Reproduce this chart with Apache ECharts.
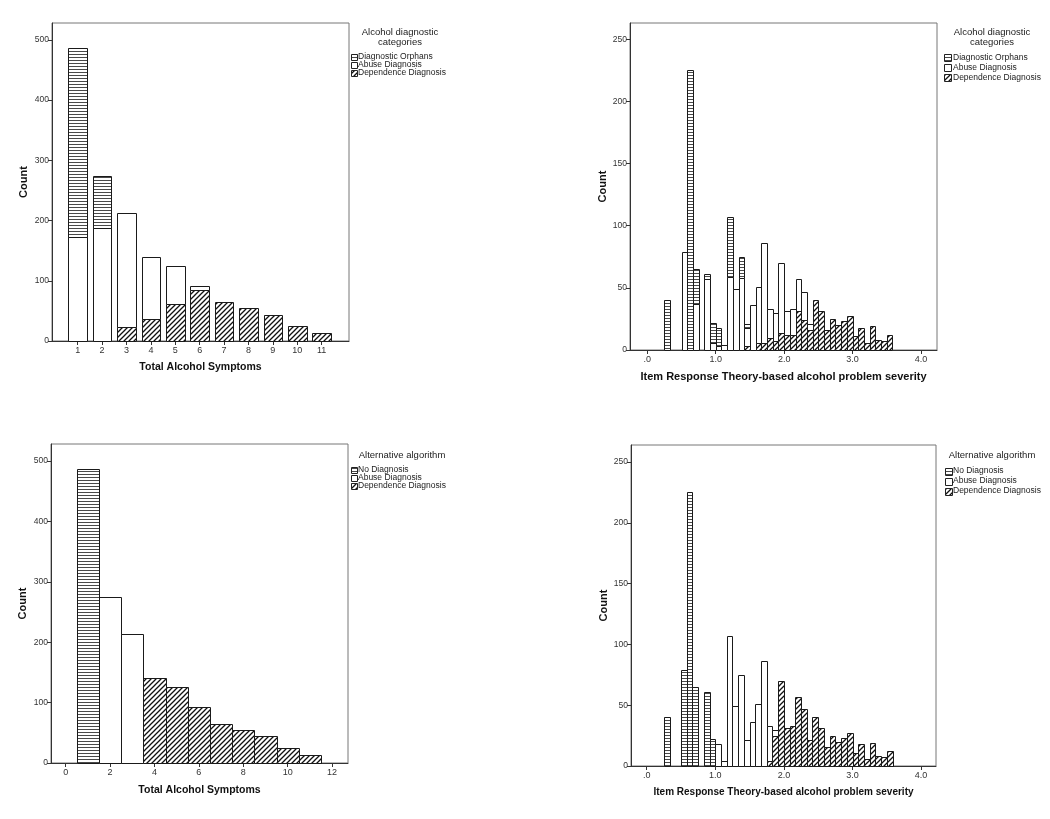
<!DOCTYPE html>
<html><head><meta charset="utf-8">
<script src="https://cdn.jsdelivr.net/npm/echarts@6/dist/echarts.min.js"></script>
<style>html,body{margin:0;padding:0;background:#fff}#c{width:1050px;height:819px}</style>
</head><body><div id="c"></div><script>
// ---------- DATA ----------
// Top-left / bottom-left: Total Alcohol Symptoms (1..11)
const symptoms = [1, 2, 3, 4, 5, 6, 7, 8, 9, 10, 11];
const tlOrphans    = [313, 86, 0, 0, 0, 0, 0, 0, 0, 0, 0];
const tlAbuse      = [173, 188, 190, 104, 63, 8, 0, 0, 0, 0, 0];
const tlDependence = [0, 0, 23, 36, 62, 84, 65, 54, 44, 25, 14];
const blNone       = [486, 0, 0, 0, 0, 0, 0, 0, 0, 0, 0];
const blAbuse      = [0, 274, 213, 0, 0, 0, 0, 0, 0, 0, 0];
const blDependence = [0, 0, 0, 140, 125, 92, 65, 54, 44, 25, 14];

// IRT severity histogram: bin k covers [k/12, (k+1)/12]
const irtBinIndex = [3,4,5,6,7,8,9,10,11,12,13,14,15,16,17,18,19,20,21,22,23,24,25,26,27,28,29,30,31,32,33,34,35,36,37,38,39,40,41,42];
const irtBinsPerUnit = 12;
const trDependence = [0,0,0,0,0,0,0,0,0,0,0,0,0,0,3,0,6,6,10,7,14,12,12,31,24,16,40,31,16,25,20,23,27,11,18,6,19,8,7,12];
const trAbuse      = [0,0,0,79,0,37,0,57,6,3,4,59,49,58,15,36,45,80,23,23,56,19,21,26,23,5,0,0,0,0,0,0,0,0,0,0,0,0,0,0];
const trOrphans    = [40,0,0,0,225,28,0,4,16,15,0,48,0,17,3,0,0,0,0,0,0,0,0,0,0,0,0,0,0,0,0,0,0,0,0,0,0,0,0,0];
const brDependence = [0,0,0,0,0,0,0,0,0,0,0,0,0,0,0,0,0,0,4,25,70,31,33,57,47,21,40,31,16,25,20,23,27,11,18,6,19,8,7,12];
const brAbuse      = [0,0,0,0,0,0,0,0,0,18,4,107,49,75,21,36,51,86,29,5,0,0,0,0,0,0,0,0,0,0,0,0,0,0,0,0,0,0,0,0];
const brNone       = [40,0,0,79,225,65,0,61,22,0,0,0,0,0,0,0,0,0,0,0,0,0,0,0,0,0,0,0,0,0,0,0,0,0,0,0,0,0,0,0];

// Tick labels
const countTicksL = [0, 100, 200, 300, 400, 500];
const countTicksR = [0, 50, 100, 150, 200, 250];
const symptomTicksTL = [1, 2, 3, 4, 5, 6, 7, 8, 9, 10, 11];
const symptomTicksBL = [0, 2, 4, 6, 8, 10, 12];
const irtTicks = [0, 1, 2, 3, 4];

const legendTop = ['Diagnostic Orphans', 'Abuse Diagnosis', 'Dependence Diagnosis'];
const legendBottom = ['No Diagnosis', 'Abuse Diagnosis', 'Dependence Diagnosis'];

// ---------- STYLE ----------
const FONT = 'Arial, "Liberation Sans", sans-serif';
function hPattern() {
  const c = document.createElement('canvas'); c.width = 4; c.height = 3;
  const g = c.getContext('2d');
  g.fillStyle = '#fff'; g.fillRect(0, 0, 4, 3);
  g.fillStyle = '#4a4a4a'; g.fillRect(0, 0, 4, 1);
  return { image: c, repeat: 'repeat' };
}
function dPattern() {
  const s = 5; const c = document.createElement('canvas'); c.width = s; c.height = s;
  const g = c.getContext('2d');
  g.fillStyle = '#fff'; g.fillRect(0, 0, s, s);
  g.strokeStyle = '#111'; g.lineWidth = 1.3;
  g.beginPath();
  g.moveTo(-1, s + 1); g.lineTo(s + 1, -1);
  g.moveTo(-1, 1); g.lineTo(1, -1);
  g.moveTo(s - 1, s + 1); g.lineTo(s + 1, s - 1);
  g.stroke();
  return { image: c, repeat: 'repeat' };
}
const PAT_H = hPattern(), PAT_D = dPattern(), PAT_W = '#fff';

function barRender(fill) {
  return function (params, api) {
    const x0 = api.value(0), x1 = api.value(1), b = api.value(2), t = api.value(3);
    if (!(t > b)) return null;
    const p0 = api.coord([x0, t]), p1 = api.coord([x1, b]);
    const L = Math.round(p0[0]) + 0.5, R = Math.round(p1[0]) + 0.5;
    const T = Math.round(p0[1]) + 0.5, B = Math.round(p1[1]) + 0.5;
    return { type: 'rect', shape: { x: L, y: T, width: R - L, height: B - T },
      style: { fill: fill, stroke: '#1a1a1a', lineWidth: 1 } };
  };
}
// stacked layers (bottom first) -> arrays of [x0, x1, base, top]
function stack(lo, hi, layers) {
  const base = lo.map(() => 0);
  return layers.map(arr => arr.map((v, i) => { const b = base[i]; base[i] += v; return [lo[i], hi[i], b, b + v]; }));
}
function seriesFor(gi, lo, hi, layers, fills, names) {
  const st = stack(lo, hi, layers);
  return st.map((d, i) => ({ type: 'custom', name: names[i], xAxisIndex: gi, yAxisIndex: gi,
    renderItem: barRender(fills[i]), encode: { x: [0, 1], y: [2, 3] }, data: d, silent: true, clip: false }));
}

const tlBarHalf = 0.38;
const tlLo = symptoms.map(s => s - tlBarHalf), tlHi = symptoms.map(s => s + tlBarHalf);
const blLo = symptoms.map(s => s - 0.5), blHi = symptoms.map(s => s + 0.5);
const irtLo = irtBinIndex.map(k => k / irtBinsPerUnit), irtHi = irtBinIndex.map(k => (k + 1) / irtBinsPerUnit);

function xAxisCfg(gi, min, max, ticks, fmt, name, gap, nsize) {
  return { type: 'value', gridIndex: gi, min, max, position: 'bottom',
    axisLine: { show: true, onZero: false, lineStyle: { color: '#333', width: 1 } },
    axisTick: { show: true, inside: false, length: 4, customValues: ticks, lineStyle: { color: '#333' } },
    axisLabel: { show: true, customValues: ticks, formatter: fmt, fontSize: 9, color: '#333', margin: 5, fontFamily: FONT },
    splitLine: { show: false },
    name, nameLocation: 'middle', nameGap: gap,
    nameTextStyle: { fontWeight: 'bold', fontSize: nsize, color: '#111', fontFamily: FONT } };
}
function yAxisCfg(gi, max, ticks, gap) {
  return { type: 'value', gridIndex: gi, min: 0, max, position: 'left',
    axisLine: { show: true, onZero: false, lineStyle: { color: '#333', width: 1 } },
    axisTick: { show: true, inside: false, length: 4, customValues: ticks, lineStyle: { color: '#333' } },
    axisLabel: { show: true, customValues: ticks, fontSize: 8.5, color: '#333', margin: 3, fontFamily: FONT },
    splitLine: { show: false },
    name: 'Count', nameLocation: 'middle', nameRotate: 90, nameGap: gap,
    nameTextStyle: { fontWeight: 'bold', fontSize: 11, color: '#111', fontFamily: FONT } };
}
const irtFmt = v => (v === 0 ? '.0' : v.toFixed(1));

function legend(titleLines, tcx, ty0, tstep, labels, boxX, textX, iy0, istep, box, fsize) {
  const fills = [PAT_H, PAT_W, PAT_D];
  const els = [];
  titleLines.forEach((t, i) => els.push({ type: 'text', x: tcx, y: ty0 + i * tstep,
    style: { text: t, font: '9.5px ' + FONT, fill: '#222', textAlign: 'center', textVerticalAlign: 'middle', verticalAlign: 'middle' } }));
  labels.forEach((t, i) => {
    const cy = iy0 + i * istep;
    els.push({ type: 'rect', shape: { x: boxX + 0.5, y: Math.round(cy - box / 2) + 0.5, width: box, height: box },
      style: { fill: fills[i], stroke: '#222', lineWidth: 1 } });
    els.push({ type: 'text', x: textX, y: cy,
      style: { text: t, font: fsize + 'px ' + FONT, fill: '#222', textAlign: 'left', textVerticalAlign: 'middle', verticalAlign: 'middle' } });
  });
  return els;
}

const option = {
  animation: false,
  backgroundColor: '#fff',
  grid: [
    { left: 52, top: 23, width: 297, height: 318, show: true, borderColor: '#777', borderWidth: 1 },
    { left: 630, top: 23, width: 307, height: 327, show: true, borderColor: '#777', borderWidth: 1 },
    { left: 51, top: 444, width: 297, height: 319, show: true, borderColor: '#777', borderWidth: 1 },
    { left: 631, top: 445, width: 305, height: 321, show: true, borderColor: '#777', borderWidth: 1 }
  ],
  xAxis: [
    xAxisCfg(0, -0.053, 12.12, symptomTicksTL, v => String(v), 'Total Alcohol Symptoms', 21, 10.5),
    xAxisCfg(1, -0.253, 4.234, irtTicks, irtFmt, 'Item Response Theory-based alcohol problem severity', 21, 11),
    xAxisCfg(2, -0.662, 12.72, symptomTicksBL, v => String(v), 'Total Alcohol Symptoms', 22, 10.5),
    xAxisCfg(3, -0.229, 4.217, irtTicks, irtFmt, 'Item Response Theory-based alcohol problem severity', 21, 10)
  ],
  yAxis: [
    yAxisCfg(0, 528, countTicksL, 23),
    yAxisCfg(1, 263, countTicksR, 22),
    yAxisCfg(2, 528, countTicksL, 23),
    yAxisCfg(3, 264, countTicksR, 22)
  ],
  series: [].concat(
    seriesFor(0, tlLo, tlHi, [tlDependence, tlAbuse, tlOrphans], [PAT_D, PAT_W, PAT_H], ['Dependence Diagnosis', 'Abuse Diagnosis', 'Diagnostic Orphans']),
    seriesFor(1, irtLo, irtHi, [trDependence, trAbuse, trOrphans], [PAT_D, PAT_W, PAT_H], ['Dependence Diagnosis', 'Abuse Diagnosis', 'Diagnostic Orphans']),
    seriesFor(2, blLo, blHi, [blDependence, blAbuse, blNone], [PAT_D, PAT_W, PAT_H], ['Dependence Diagnosis', 'Abuse Diagnosis', 'No Diagnosis']),
    seriesFor(3, irtLo, irtHi, [brDependence, brAbuse, brNone], [PAT_D, PAT_W, PAT_H], ['Dependence Diagnosis', 'Abuse Diagnosis', 'No Diagnosis'])
  ),
  graphic: [].concat(
    legend(['Alcohol diagnostic', 'categories'], 400, 32, 10, legendTop, 351, 358, 56.5, 8, 6, 8.5),
    legend(['Alcohol diagnostic', 'categories'], 992, 32, 10, legendTop, 944, 953, 57.5, 10, 7, 8.5),
    legend(['Alternative algorithm'], 402, 455, 10, legendBottom, 351, 358, 469.5, 8, 6, 8.5),
    legend(['Alternative algorithm'], 992, 455, 10, legendBottom, 945, 953, 471, 10, 7, 8.5)
  )
};
const chart = echarts.init(document.getElementById('c'), null, { renderer: 'canvas' });
chart.setOption(option);
</script></body></html>
